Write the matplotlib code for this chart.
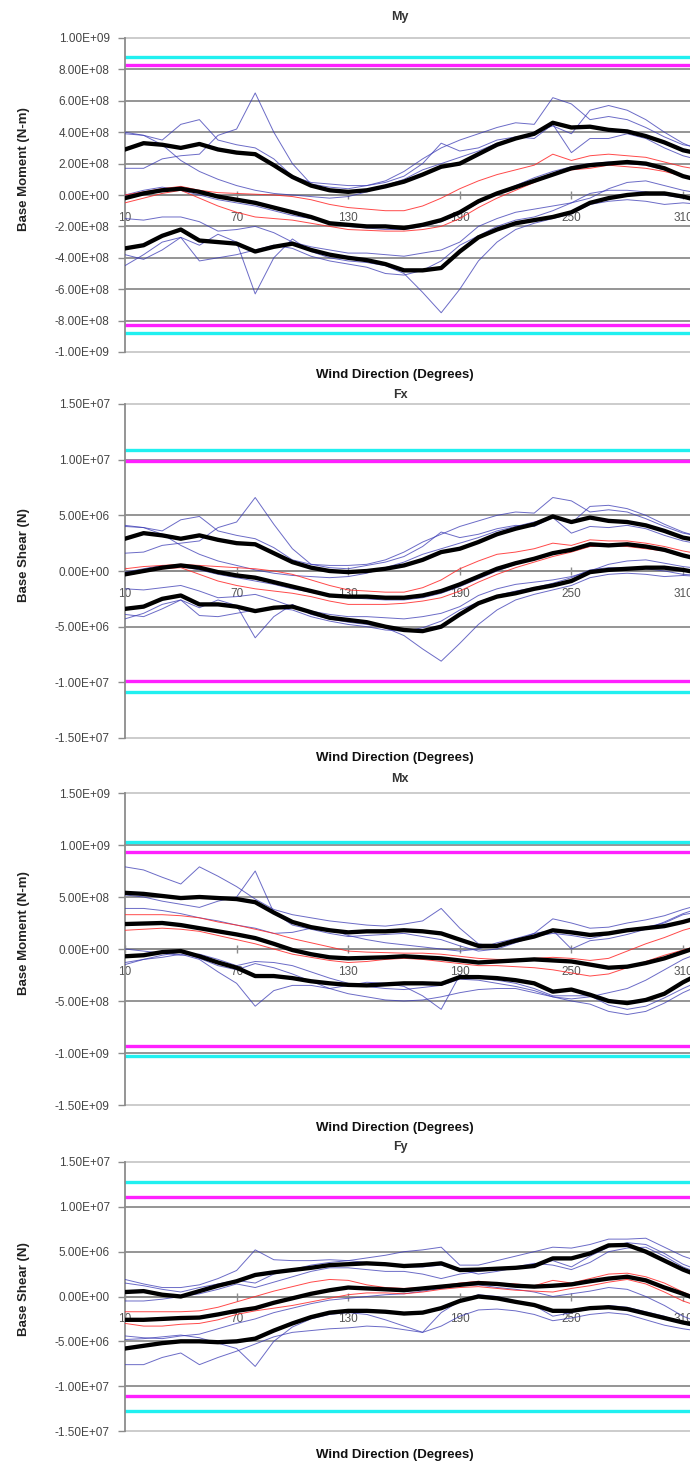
import matplotlib
matplotlib.use("Agg")
import matplotlib.pyplot as plt
from matplotlib.ticker import FixedLocator, FuncFormatter

plt.rcParams['font.family'] = ['Liberation Sans', 'DejaVu Sans']

# ---------------- data ----------------
directions = [10, 20, 30, 40, 50, 60, 70, 80, 90, 100, 110, 120, 130, 140, 150, 160,
              170, 180, 190, 200, 210, 220, 230, 240, 250, 260, 270, 280, 290, 300, 310, 320]
xtick_labels = [10, 70, 130, 190, 250, 310]

# My (units of 1e8 N-m)
my_black = [
    [2.9, 3.3, 3.2, 3.0, 3.25, 2.9, 2.7, 2.6, 1.9, 1.15, 0.6, 0.3, 0.2, 0.3, 0.55, 0.85,
     1.3, 1.8, 2.0, 2.6, 3.2, 3.6, 3.9, 4.6, 4.3, 4.35, 4.15, 4.05, 3.75, 3.35, 2.85, 2.6],
    [-0.2, 0.1, 0.3, 0.4, 0.2, -0.1, -0.3, -0.5, -0.8, -1.1, -1.4, -1.8, -1.9, -2.0, -2.0, -2.1,
     -1.9, -1.6, -1.1, -0.4, 0.1, 0.5, 0.9, 1.3, 1.7, 1.9, 2.0, 2.1, 2.0, 1.7, 1.2, 0.9],
    [-3.4, -3.2, -2.6, -2.2, -2.9, -3.0, -3.1, -3.6, -3.3, -3.1, -3.5, -3.8, -4.0, -4.15, -4.4, -4.8,
     -4.8, -4.65, -3.6, -2.7, -2.2, -1.8, -1.6, -1.4, -1.1, -0.5, -0.2, 0.0, 0.1, 0.1, -0.1, -0.4],
]
my_red = [
    [0.0, 0.2, 0.4, 0.55, 0.3, 0.15, 0.1, 0.05, 0.0, -0.1, -0.3, -0.6, -0.8, -0.9, -1.0, -1.0,
     -0.7, -0.2, 0.4, 0.9, 1.3, 1.6, 1.9, 2.6, 2.2, 2.5, 2.6, 2.5, 2.4, 2.1, 1.8, 1.6],
    [-0.5, -0.2, 0.1, 0.3, -0.2, -0.7, -1.1, -1.4, -1.5, -1.6, -1.8, -2.0, -2.2, -2.25, -2.3, -2.3,
     -2.2, -2.0, -1.5, -0.8, -0.2, 0.3, 0.8, 1.3, 1.6, 1.7, 1.9, 1.8, 1.7, 1.5, 1.2, 1.0],
]
my_blue = [
    [1.7, 1.7, 2.3, 2.5, 2.6, 3.8, 4.2, 6.5, 4.0, 2.0, 0.7, 0.5, 0.4, 0.6, 0.8, 1.2,
     2.0, 3.3, 2.8, 3.0, 3.5, 3.7, 3.6, 4.5, 2.7, 3.6, 3.6, 3.9, 3.6, 3.0, 2.5, 2.2],
    [3.9, 3.8, 3.5, 4.5, 4.8, 3.5, 3.2, 3.0, 2.3, 1.2, 0.8, 0.7, 0.6, 0.6, 0.9, 1.5,
     2.3, 3.0, 3.5, 3.9, 4.3, 4.6, 4.5, 6.2, 5.8, 4.8, 5.0, 4.8, 4.3, 3.7, 3.2, 3.0],
    [4.0, 3.8, 3.2, 2.2, 1.5, 1.0, 0.6, 0.3, 0.1, 0.0, -0.1, -0.2, -0.1, 0.2, 0.6, 1.0,
     1.6, 2.0, 2.4, 2.8, 3.3, 3.6, 4.0, 4.4, 3.9, 5.4, 5.7, 5.4, 4.8, 4.0, 3.3, 2.8],
    [-4.5, -3.8, -3.0, -2.7, -3.2, -2.5, -3.0, -6.3, -4.0, -2.8, -3.6, -4.0, -4.2, -4.3, -4.5, -5.0,
     -6.2, -7.5, -6.0, -4.2, -3.0, -2.2, -1.8, -1.5, -1.2, -0.6, -0.4, -0.3, -0.4, -0.6, -0.5, -0.6],
    [-1.5, -1.6, -1.4, -1.4, -1.7, -2.3, -2.2, -2.0, -2.4, -3.0, -3.3, -3.5, -3.7, -3.7, -3.8, -3.9,
     -3.7, -3.5, -3.0, -2.0, -1.5, -1.1, -0.9, -0.7, -0.5, -0.2, 0.4, 0.8, 0.9, 0.6, 0.3, 0.1],
    [-3.8, -4.1, -3.5, -2.7, -4.2, -4.0, -3.8, -3.5, -3.2, -3.4, -3.9, -4.2, -4.4, -4.6, -5.0, -5.1,
     -4.8, -4.2, -3.2, -2.6, -2.0, -1.6, -1.4, -1.0, -0.5, 0.1, 0.3, 0.3, 0.2, 0.0, -0.2, -0.3],
    [0.0, 0.3, 0.5, 0.3, 0.0, -0.3, -0.5, -0.7, -1.0, -1.3, -1.5, -1.8, -2.0, -2.1, -2.2, -2.2,
     -2.0, -1.7, -1.2, -0.5, 0.1, 0.6, 1.1, 1.5, 1.8, 2.0, 2.1, 2.0, 1.9, 1.6, 1.2, 0.9],
]
my_limits = [8.8, 8.25]   # cyan, magenta (1e8)

# Fx (units of 1e6 N)
fx_black = [
    [2.9, 3.4, 3.2, 2.9, 3.2, 2.8, 2.5, 2.4, 1.6, 0.8, 0.3, 0.0, -0.1, 0.0, 0.2, 0.5,
     1.0, 1.7, 2.0, 2.6, 3.3, 3.8, 4.2, 4.9, 4.4, 4.8, 4.5, 4.4, 4.1, 3.6, 3.0, 2.7],
    [-0.3, 0.0, 0.3, 0.5, 0.3, -0.1, -0.4, -0.6, -1.0, -1.4, -1.8, -2.2, -2.3, -2.3, -2.4, -2.4,
     -2.2, -1.8, -1.2, -0.5, 0.2, 0.7, 1.1, 1.6, 1.9, 2.4, 2.3, 2.4, 2.2, 1.9, 1.4, 1.0],
    [-3.4, -3.2, -2.5, -2.2, -3.0, -3.0, -3.2, -3.6, -3.3, -3.2, -3.7, -4.2, -4.4, -4.6, -5.0, -5.3,
     -5.4, -5.0, -3.9, -2.9, -2.3, -2.0, -1.6, -1.3, -0.9, -0.1, 0.1, 0.2, 0.3, 0.3, 0.1, -0.2],
]
fx_red = [
    [0.2, 0.4, 0.5, 0.6, 0.5, 0.4, 0.3, 0.2, 0.0, -0.3, -0.8, -1.3, -1.7, -1.8, -1.9, -1.9,
     -1.5, -0.8, 0.2, 0.9, 1.5, 1.7, 2.0, 2.5, 2.3, 2.8, 2.7, 2.7, 2.5, 2.2, 1.8, 1.5],
    [-0.4, -0.1, 0.2, 0.3, -0.3, -0.9, -1.3, -1.6, -1.8, -2.0, -2.3, -2.7, -3.0, -3.0, -3.0, -2.9,
     -2.7, -2.4, -1.8, -1.0, -0.3, 0.3, 0.8, 1.3, 1.7, 2.2, 2.3, 2.2, 2.0, 1.8, 1.3, 1.0],
]
fx_blue = [
    [1.6, 1.7, 2.3, 2.5, 2.7, 3.9, 4.4, 6.6, 4.2, 2.0, 0.6, 0.3, 0.2, 0.5, 0.8, 1.3,
     2.2, 3.5, 3.0, 3.3, 3.8, 4.1, 4.0, 4.8, 3.4, 4.0, 3.9, 4.1, 3.8, 3.2, 2.7, 2.4],
    [4.0, 3.9, 3.6, 4.6, 4.9, 3.6, 3.2, 2.9, 2.1, 1.0, 0.6, 0.5, 0.5, 0.6, 1.0, 1.7,
     2.6, 3.3, 4.0, 4.5, 5.0, 5.3, 5.2, 6.6, 6.3, 5.3, 5.5, 5.3, 4.7, 4.0, 3.4, 3.1],
    [4.1, 3.9, 3.3, 2.3, 1.5, 0.9, 0.5, 0.1, -0.2, -0.4, -0.5, -0.6, -0.5, -0.2, 0.3, 0.8,
     1.5, 2.0, 2.5, 3.0, 3.6, 4.0, 4.4, 4.8, 4.3, 5.8, 5.9, 5.6, 5.0, 4.2, 3.5, 3.0],
    [-4.3, -3.8, -3.0, -2.6, -3.3, -2.6, -3.1, -6.0, -4.1, -3.0, -3.9, -4.3, -4.6, -4.8, -5.1, -5.8,
     -7.0, -8.1, -6.5, -4.8, -3.5, -2.6, -2.1, -1.7, -1.3, -0.6, -0.3, -0.2, -0.3, -0.5, -0.4, -0.5],
    [-1.6, -1.7, -1.5, -1.3, -1.8, -2.4, -2.3, -2.1, -2.6, -3.2, -3.6, -3.9, -4.1, -4.1, -4.2, -4.3,
     -4.1, -3.8, -3.2, -2.2, -1.6, -1.2, -1.0, -0.8, -0.5, 0.0, 0.6, 0.9, 1.0, 0.7, 0.4, 0.2],
    [-3.9, -4.1, -3.4, -2.6, -4.0, -4.1, -3.8, -3.5, -3.3, -3.5, -4.1, -4.5, -4.8, -5.0, -5.3, -5.4,
     -5.1, -4.5, -3.5, -2.8, -2.2, -1.8, -1.5, -1.1, -0.6, 0.1, 0.3, 0.3, 0.2, 0.0, -0.3, -0.4],
    [-0.1, 0.2, 0.5, 0.4, 0.1, -0.3, -0.6, -0.9, -1.2, -1.6, -1.9, -2.2, -2.4, -2.5, -2.6, -2.6,
     -2.4, -2.0, -1.4, -0.7, 0.0, 0.6, 1.1, 1.6, 2.0, 2.2, 2.4, 2.3, 2.1, 1.8, 1.3, 1.0],
]
fx_limits = [10.9, 9.9]

# Mx (units of 1e8 N-m)
mx_black = [
    [5.4, 5.3, 5.1, 4.9, 5.0, 4.9, 4.8, 4.5, 3.5, 2.6, 2.1, 1.8, 1.6, 1.7, 1.7, 1.8,
     1.7, 1.5, 0.9, 0.3, 0.3, 0.8, 1.2, 1.8, 1.6, 1.35, 1.5, 1.8, 2.0, 2.2, 2.6, 3.1],
    [2.4, 2.45, 2.5, 2.3, 2.0, 1.7, 1.4, 1.05, 0.5, -0.1, -0.5, -0.8, -0.9, -0.85, -0.8, -0.7,
     -0.8, -0.9, -1.1, -1.3, -1.2, -1.1, -1.0, -1.1, -1.2, -1.5, -1.8, -1.7, -1.35, -0.9, -0.3, 0.3],
    [-0.7, -0.6, -0.3, -0.2, -0.7, -1.3, -1.8, -2.6, -2.6, -2.8, -3.1, -3.3, -3.45, -3.5, -3.4, -3.3,
     -3.3, -3.35, -2.7, -2.7, -2.8, -3.0, -3.3, -4.1, -3.9, -4.4, -5.0, -5.2, -4.9, -4.3, -3.2, -2.3],
]
mx_red = [
    [3.3, 3.3, 3.3, 3.2, 3.0, 2.6, 2.3, 1.9, 1.5, 1.0, 0.6, 0.2, -0.2, -0.3, -0.35, -0.4,
     -0.4, -0.5, -0.7, -0.9, -1.0, -1.0, -0.9, -0.8, -0.9, -1.1, -0.9, -0.2, 0.5, 1.1, 1.8, 2.3],
    [1.8, 1.9, 2.0, 1.9, 1.7, 1.3, 0.9, 0.5, 0.0, -0.5, -0.8, -1.1, -1.3, -1.2, -1.0, -0.9,
     -1.0, -1.2, -1.4, -1.6, -1.6, -1.7, -1.8, -2.0, -2.3, -2.6, -2.4, -1.8, -1.2, -0.6, -0.1, 0.4],
]
mx_blue = [
    [7.9, 7.6, 6.9, 6.25, 7.9, 7.0, 6.0, 4.8, 3.8, 3.3, 3.0, 2.7, 2.5, 2.3, 2.2, 2.4,
     2.7, 3.9, 2.0, 0.5, 0.2, 0.8, 1.5, 2.9, 2.5, 2.0, 2.1, 2.5, 2.8, 3.2, 3.8, 4.3],
    [5.2, 5.0, 4.6, 4.3, 4.0, 4.6, 5.0, 7.5, 3.5, 2.3, 1.9, 1.5, 1.2, 1.3, 1.4, 1.5,
     1.2, 0.9, 0.3, -0.2, 0.0, 0.6, 1.2, 1.5, 1.3, 1.0, 1.4, 1.8, 2.1, 2.5, 3.3, 3.6],
    [3.9, 3.9, 3.7, 3.4, 3.0, 2.7, 2.3, 2.0, 1.5, 1.6, 2.0, 1.9, 1.3, 0.9, 0.6, 0.4,
     0.2, 0.0, -0.2, 0.0, 0.6, 1.0, 1.5, 1.8, 0.0, 0.8, 1.0, 1.4, 1.9, 2.6, 3.4, 4.0],
    [-1.5, -1.0, -0.8, -0.5, -1.0, -2.2, -3.3, -5.5, -4.0, -3.5, -3.5, -3.8, -3.5, -3.2, -3.3, -3.6,
     -4.5, -5.8, -2.5, -2.8, -3.0, -3.3, -3.8, -4.5, -4.5, -4.5, -5.4, -5.8, -5.5, -4.7, -3.8, -3.0],
    [0.0, -0.2, -0.4, -0.6, -0.5, -1.0, -1.6, -1.2, -1.3, -1.6, -2.2, -2.8, -3.3, -3.6, -3.8, -3.9,
     -3.7, -3.5, -2.9, -3.0, -3.3, -3.6, -4.0, -4.6, -5.0, -5.3, -6.0, -6.3, -6.0, -5.2, -4.2, -3.4],
    [-1.3, -1.0, -0.6, -0.3, -0.9, -1.6, -2.0, -1.4, -1.8, -2.4, -3.1, -3.8, -4.3, -4.6, -4.9, -5.0,
     -4.9, -4.6, -4.2, -3.9, -3.8, -3.8, -4.2, -4.6, -4.8, -4.6, -4.2, -3.8, -3.0, -2.0, -1.0, -0.3],
]
mx_limits = [10.3, 9.3]

# Fy (units of 1e6 N)
fy_black = [
    [0.5, 0.6, 0.2, 0.0, 0.6, 1.2, 1.7, 2.4, 2.7, 2.95, 3.2, 3.5, 3.6, 3.7, 3.6, 3.4,
     3.5, 3.7, 2.95, 3.0, 3.1, 3.2, 3.4, 4.25, 4.25, 4.8, 5.7, 5.75, 5.0, 4.0, 3.0, 2.2],
    [-2.6, -2.6, -2.5, -2.4, -2.35, -2.0, -1.6, -1.3, -0.7, -0.2, 0.3, 0.7, 1.0, 0.9, 0.8, 0.7,
     0.9, 1.1, 1.3, 1.5, 1.4, 1.2, 1.1, 1.2, 1.35, 1.7, 2.0, 2.2, 1.8, 1.0, 0.3, -0.5],
    [-5.8, -5.5, -5.2, -5.0, -5.0, -5.1, -5.0, -4.7, -3.8, -3.0, -2.3, -1.8, -1.6, -1.6, -1.7, -1.9,
     -1.8, -1.3, -0.5, 0.0, -0.2, -0.6, -0.95, -1.6, -1.6, -1.3, -1.2, -1.4, -1.9, -2.4, -2.9, -3.3],
]
fy_red = [
    [-1.7, -1.7, -1.7, -1.7, -1.6, -1.2, -0.6, 0.0, 0.6, 1.1, 1.6, 1.9, 1.8, 1.3, 1.0, 0.9,
     1.0, 1.2, 1.5, 1.7, 1.5, 1.4, 1.2, 1.8, 1.5, 2.0, 2.5, 2.6, 2.2, 1.5, 0.5, -0.3],
    [-3.0, -3.3, -3.3, -3.1, -3.0, -2.6, -2.0, -1.6, -1.3, -1.0, -0.6, -0.2, 0.2, 0.4, 0.4, 0.3,
     0.5, 0.8, 1.0, 1.1, 0.9, 0.7, 0.6, 0.5, 0.9, 1.2, 1.6, 1.9, 1.4, 0.5, -0.5, -1.2],
]
fy_blue = [
    [1.9, 1.4, 1.0, 1.0, 1.3, 2.0, 2.9, 5.2, 4.1, 4.0, 4.0, 4.1, 4.0, 4.3, 4.6, 5.0,
     5.2, 5.5, 3.5, 3.5, 4.0, 4.5, 5.0, 5.5, 5.4, 5.8, 6.4, 6.4, 6.5, 5.5, 4.5, 3.8],
    [1.5, 1.2, 0.8, 0.5, 1.0, 1.4, 1.8, 1.5, 2.5, 3.0, 3.5, 3.8, 4.0, 3.8, 3.5, 3.3,
     3.3, 3.5, 3.0, 2.5, 2.8, 3.2, 3.6, 4.0, 3.3, 4.5, 5.5, 6.0, 5.8, 4.8, 3.6, 2.8],
    [-0.5, -0.5, -0.3, 0.0, 0.3, 0.8, 1.4, 1.0, 1.6, 2.2, 2.8, 3.2, 3.2, 3.0, 2.8, 2.8,
     2.5, 2.0, 2.5, 2.8, 3.0, 3.3, 3.7, 3.5, 3.0, 3.8, 5.0, 5.4, 5.5, 4.5, 3.3, 2.5],
    [-7.6, -7.6, -6.8, -6.3, -7.6, -6.8, -6.1, -5.3, -4.5, -4.0, -3.8, -3.6, -3.5, -3.3, -3.4, -3.7,
     -4.0, -3.3, -2.2, -1.5, -1.4, -1.6, -2.0, -2.7, -2.4, -2.0, -1.8, -2.0, -2.6, -3.2, -3.6, -3.9],
    [-4.8, -4.7, -4.5, -4.3, -4.6, -5.2, -5.8, -7.8, -5.0, -3.4, -2.5, -2.0, -1.8, -2.0, -2.6, -3.3,
     -4.0, -1.8, -0.5, 0.2, 0.0, -0.5, -1.0, -2.2, -1.8, -1.4, -1.0, -1.2, -1.7, -2.2, -3.0, -3.6],
    [-4.4, -4.6, -4.7, -4.4, -4.2, -3.6, -3.0, -2.5, -1.8, -1.3, -0.8, -0.4, -0.2, 0.0, 0.2, 0.3,
     0.6, 0.9, 1.2, 1.3, 1.0, 0.8, 0.5, 0.0, 0.3, 0.6, 1.0, 0.8, 0.0, -1.0, -2.2, -3.0],
]
fy_limits = [12.8, 11.1]

panels = [
    dict(title="My", ylabel="Base Moment (N-m)", scale=1e8, black=my_black, red=my_red,
         blue=my_blue, limits=my_limits, ylim=(-1e9, 1e9),
         yticks=[-1e9, -8e8, -6e8, -4e8, -2e8, 0, 2e8, 4e8, 6e8, 8e8, 1e9],
         top=38, bottom=352, title_y=17, xlabel_y=375, ylabel_y=169),
    dict(title="Fx", ylabel="Base Shear (N)", scale=1e6, black=fx_black, red=fx_red,
         blue=fx_blue, limits=fx_limits, ylim=(-1.5e7, 1.5e7),
         yticks=[-1.5e7, -1e7, -5e6, 0, 5e6, 1e7, 1.5e7],
         top=404, bottom=738, title_y=395, xlabel_y=758, ylabel_y=555),
    dict(title="Mx", ylabel="Base Moment (N-m)", scale=1e8, black=mx_black, red=mx_red,
         blue=mx_blue, limits=mx_limits, ylim=(-1.5e9, 1.5e9),
         yticks=[-1.5e9, -1e9, -5e8, 0, 5e8, 1e9, 1.5e9],
         top=793, bottom=1105, title_y=779, xlabel_y=1128, ylabel_y=933),
    dict(title="Fy", ylabel="Base Shear (N)", scale=1e6, black=fy_black, red=fy_red,
         blue=fy_blue, limits=fy_limits, ylim=(-1.5e7, 1.5e7),
         yticks=[-1.5e7, -1e7, -5e6, 0, 5e6, 1e7, 1.5e7],
         top=1162, bottom=1431, title_y=1147, xlabel_y=1455, ylabel_y=1289),
]

W, H = 690, 1462
fig = plt.figure(figsize=(W / 100, H / 100), dpi=100)
fig.patch.set_facecolor('white')

AX_LEFT = 125
X_RIGHT_DEG = 10 + (W - AX_LEFT) / 1.86

GRID = '#8c8c8c'
EDGE = '#c8c8c8'
BLUE = '#3a3ab4'
RED = '#ff2a2a'
CYAN = '#20f0f0'
MAGENTA = '#ff20ff'

for p in panels:
    ax = fig.add_axes([AX_LEFT / W, 1 - p['bottom'] / H, (W - AX_LEFT) / W,
                       (p['bottom'] - p['top']) / H])
    s = p['scale']
    ax.set_xlim(10, X_RIGHT_DEG)
    ax.set_ylim(*p['ylim'])

    # gridlines
    for v in p['yticks']:
        edge = v in (p['ylim'][0], p['ylim'][1])
        ax.axhline(v, color=EDGE if edge else GRID, lw=1.3, zorder=1, clip_on=False)

    # limit lines
    c, m = p['limits']
    for v, col in ((c, CYAN), (-c, CYAN), (m, MAGENTA), (-m, MAGENTA)):
        ax.axhline(v * s, color=col, lw=2.4, zorder=2)

    for series in p['blue']:
        ax.plot(directions, [v * s for v in series], color=BLUE, lw=0.7, alpha=0.75, zorder=3)
    for series in p['red']:
        ax.plot(directions, [v * s for v in series], color=RED, lw=0.7, alpha=0.85, zorder=4)
    for series in p['black']:
        ax.plot(directions, [v * s for v in series], color='black', lw=3.1, zorder=5,
                solid_joinstyle='round')

    # axes styling
    for side in ('top', 'right'):
        ax.spines[side].set_visible(False)
    ax.spines['left'].set_color(GRID)
    ax.spines['left'].set_linewidth(1.3)
    ax.spines['bottom'].set_position(('data', 0))
    ax.spines['bottom'].set_color(GRID)
    ax.spines['bottom'].set_linewidth(1.3)

    ax.yaxis.set_major_locator(FixedLocator(p['yticks']))
    ax.yaxis.set_major_formatter(FuncFormatter(lambda v, pos: f"{v:.2E}"))
    ax.tick_params(axis='y', direction='out', length=5, width=1, color=GRID,
                   labelsize=8.5, labelcolor='#444444', pad=6)
    ax.set_xticks(xtick_labels)
    ax.set_xticklabels([str(t) for t in xtick_labels])
    ax.tick_params(axis='x', direction='inout', length=6, width=1, color=GRID,
                   labelsize=8.5, labelcolor='#555555', pad=9)
    ax.patch.set_alpha(0)

    fig.text(400 / W, 1 - p['title_y'] / H, p['title'], ha='center', va='center',
             fontsize=9, fontweight='bold', color='#333333')
    fig.text(395 / W, 1 - p['xlabel_y'] / H, "Wind Direction (Degrees)", ha='center',
             va='center', fontsize=9.5, fontweight='bold', color='#111111')
    fig.text(24 / W, 1 - p['ylabel_y'] / H, p['ylabel'], ha='center', va='center',
             rotation=90, fontsize=9.5, fontweight='bold', color='#222222')

fig.savefig("out.png", dpi=100)
